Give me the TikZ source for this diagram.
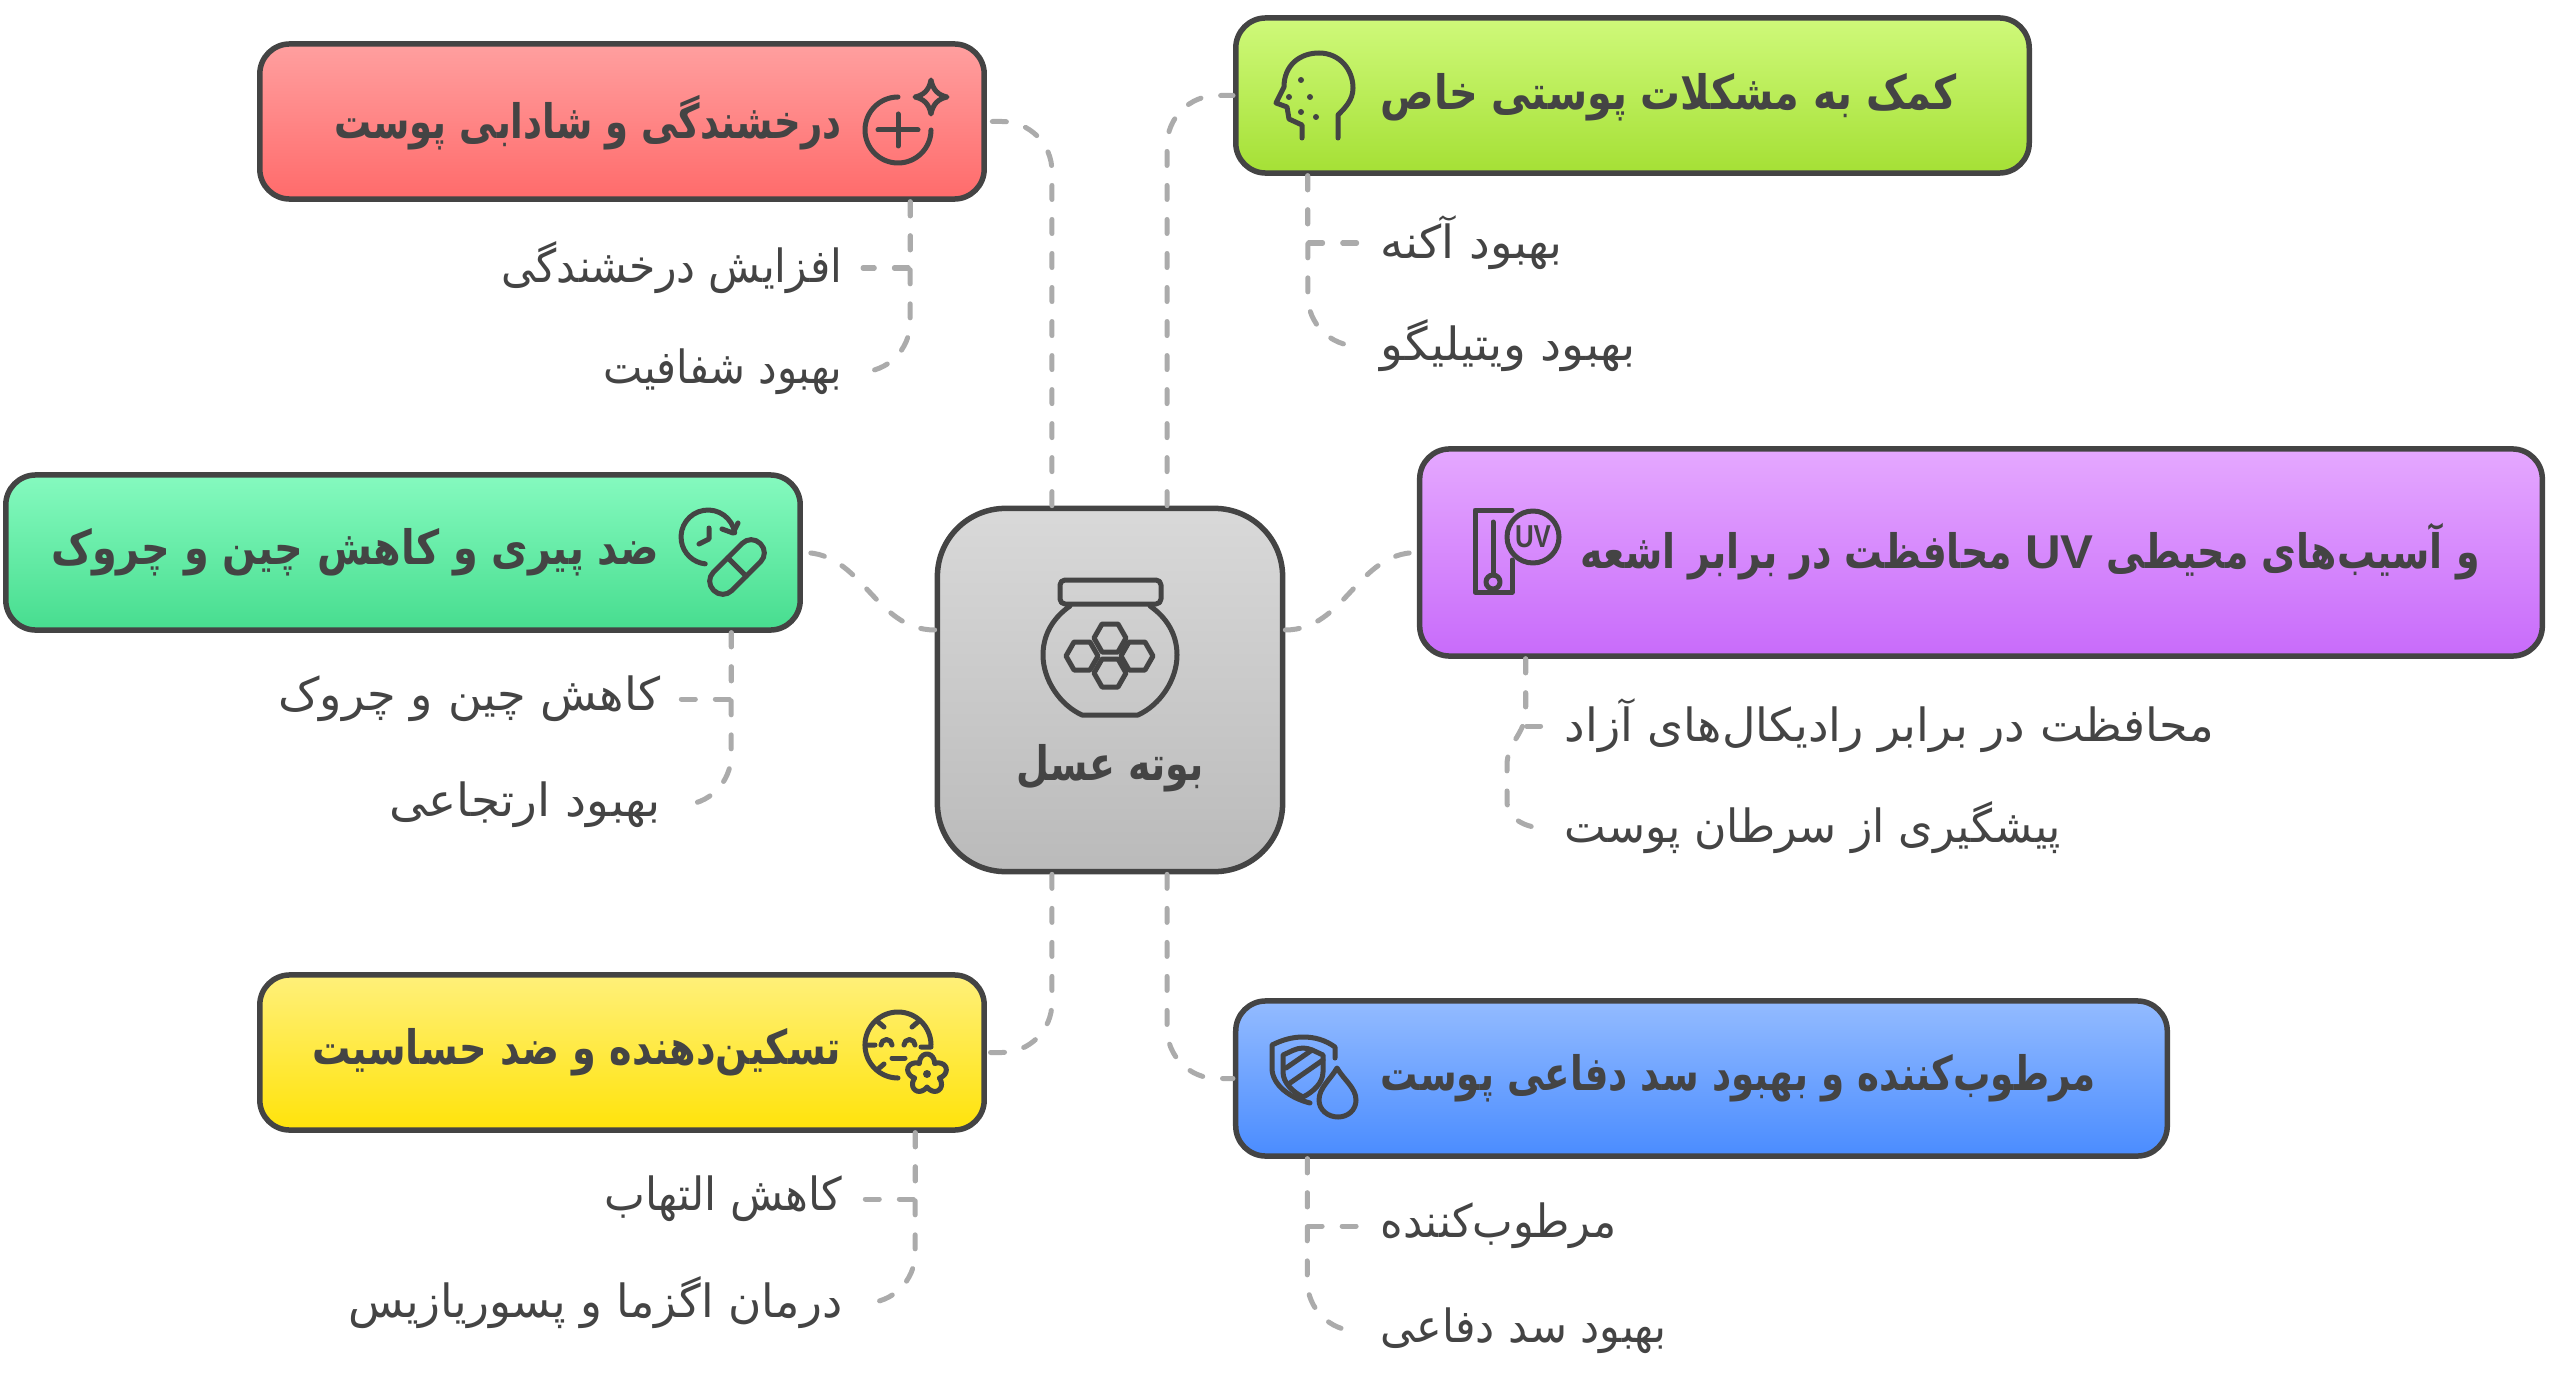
\documentclass[tikz,border=0pt]{standalone}
\usepackage{fontspec}
\newfontfamily\arabicfont[Script=Arabic]{DejaVu Sans}
\newfontfamily\latinfont{Liberation Sans}
\TeXXeTstate=1
\definecolor{boxedge}{HTML}{444444}
\definecolor{linkgrey}{HTML}{ABABAB}
% keeps the height, sets the width in 1/100 cm
\newcommand{\fitbox}[2]{\resizebox{\dimexpr 0.01cm*#1\relax}{\height}{#2}}
\tikzset{
  catbox/.style={draw=boxedge, line width=0.055cm, rounded corners=0.3cm, minimum height=1.55cm, inner sep=0pt},
  headtext/.style={inner sep=0pt, text=boxedge, font=\arabicfont\bfseries\fontsize{13.5}{15}\selectfont},
  subtext/.style={inner sep=0.2cm, text=boxedge, font=\arabicfont\fontsize{13}{15}\selectfont},
  link/.style={draw=linkgrey, line width=0.05cm, line cap=round, dash pattern=on 0.14cm off 0.2cm},
  iconline/.style={draw=boxedge, line width=0.05cm, line cap=round, line join=round}
}
\begin{document}
\begin{tikzpicture}[x=0.01cm,y=-0.01cm]
    \useasboundingbox (0,0) rectangle (2560,1388);
    % centre and the six boxes
    \node[catbox, rounded corners=0.68cm, minimum width=3.45cm, minimum height=3.63cm, top color=black!15, bottom color=black!27] (root) at (1110,690) {};
    \node[catbox, minimum width=7.24cm, top color={rgb,255:red,255;green,159;blue,159}, bottom color={rgb,255:red,255;green,107;blue,107}] (red) at (622,121.5) {};
    \node[catbox, minimum width=7.93cm, top color={rgb,255:red,207;green,249;blue,122}, bottom color={rgb,255:red,165;green,224;blue,53}] (lime) at (1632.5,95.5) {};
    \node[catbox, minimum width=7.94cm, top color={rgb,255:red,133;green,250;blue,191}, bottom color={rgb,255:red,71;green,221;blue,143}] (mint) at (403,552.5) {};
    \node[catbox, minimum width=11.22cm, minimum height=2.07cm, top color={rgb,255:red,229;green,168;blue,255}, bottom color={rgb,255:red,200;green,107;blue,250}] (uv) at (1981,552.5) {};
    \node[catbox, minimum width=7.24cm, top color={rgb,255:red,255;green,240;blue,122}, bottom color={rgb,255:red,255;green,227;blue,10}] (yellow) at (622,1052.5) {};
    \node[catbox, minimum width=9.31cm, top color={rgb,255:red,147;green,187;blue,255}, bottom color={rgb,255:red,74;green,140;blue,255}] (blue) at (1701.5,1078.5) {};

    % titles
    \node[headtext] (rootT) at (1110,768) {\fitbox{187}{\beginR بوته عسل\endR}};
    \node[headtext, anchor=east] (redT) at (842,123) {\fitbox{507}{\beginR درخشندگی و شادابی پوست\endR}};
    \node[headtext, anchor=west] (limeT) at (1380,97) {\fitbox{576}{\beginR کمک به مشکلات پوستی خاص\endR}};
    \node[headtext, anchor=east] (mintT) at (660,552) {\fitbox{608}{\beginR ضد پیری و کاهش چین و چروک\endR}};
    \node[headtext, anchor=west] (uvT) at (1580,552) {\fitbox{899}{\beginR و آسیب‌های محیطی \beginL{\latinfont\bfseries\scalebox{1.3}[1]{UV}}\endL{} محافظت در برابر اشعه\endR}};
    \node[headtext, anchor=east] (yellowT) at (842,1052) {\fitbox{529}{\beginR تسکین‌دهنده و ضد حساسیت\endR}};
    \node[headtext, anchor=west] (blueT) at (1380,1078) {\fitbox{715}{\beginR مرطوب‌کننده و بهبود سد دفاعی پوست\endR}};

    % items
    \node[subtext, anchor=east] (redA) at (863,268) {\fitbox{341}{\beginR افزایش درخشندگی\endR}};
    \node[subtext, anchor=east] (redB) at (863,372) {\fitbox{239}{\beginR بهبود شفافیت\endR}};
    \node[subtext, anchor=west] (limeA) at (1360,243) {\fitbox{182}{\beginR بهبود آکنه\endR}};
    \node[subtext, anchor=west] (limeB) at (1360,346) {\fitbox{255}{\beginR بهبود ویتیلیگو\endR}};
    \node[subtext, anchor=east] (mintA) at (681,699) {\fitbox{382}{\beginR کاهش چین و چروک\endR}};
    \node[subtext, anchor=east] (mintB) at (681,805) {\fitbox{271}{\beginR بهبود ارتجاعی\endR}};
    \node[subtext, anchor=west] (uvA) at (1544,726) {\fitbox{649}{\beginR محافظت در برابر رادیکال‌های آزاد\endR}};
    \node[subtext, anchor=west] (uvB) at (1544,828) {\fitbox{496}{\beginR پیشگیری از سرطان پوست\endR}};
    \node[subtext, anchor=east] (yellowA) at (863,1199) {\fitbox{238}{\beginR کاهش التهاب\endR}};
    \node[subtext, anchor=east] (yellowB) at (863,1303) {\fitbox{494}{\beginR درمان اگزما و پسوریازیس\endR}};
    \node[subtext, anchor=west] (blueA) at (1360,1226) {\fitbox{236}{\beginR مرطوب‌کننده\endR}};
    \node[subtext, anchor=west] (blueB) at (1360,1331) {\fitbox{286}{\beginR بهبود سد دفاعی\endR}};

    % connectors
    \draw[link, rounded corners=0.5cm] ([xshift=-0.58cm]root.north) |- (red.east);
    \draw[link, rounded corners=0.5cm] ([xshift=0.57cm]root.north) |- (lime.west);
    \draw[link, rounded corners=0.5cm] ([xshift=-0.58cm]root.south) |- (yellow.east);
    \draw[link, rounded corners=0.5cm] ([xshift=0.57cm]root.south) |- (blue.west);
    \draw[link] ([yshift=0.6cm]root.west) to[out=180,in=0] (mint.east);
    \draw[link] ([yshift=0.6cm]root.east) to[out=0,in=180] (uv.west);

    \draw[link] ([xshift=2.88cm]red.south) |- (redA.east);
    \draw[link, rounded corners=0.5cm] ([xshift=2.88cm]red.south) |- (redB.east);
    \draw[link] ([xshift=-3.245cm]lime.south) |- (limeA.west);
    \draw[link, rounded corners=0.5cm] ([xshift=-3.245cm]lime.south) |- (limeB.west);
    \draw[link] ([xshift=3.28cm]mint.south) |- (mintA.east);
    \draw[link, rounded corners=0.5cm] ([xshift=3.28cm]mint.south) |- (mintB.east);
    \draw[link] ([xshift=2.93cm]yellow.south) |- (yellowA.east);
    \draw[link, rounded corners=0.5cm] ([xshift=2.93cm]yellow.south) |- (yellowB.east);
    \draw[link] ([xshift=-3.94cm]blue.south) |- (blueA.west);
    \draw[link, rounded corners=0.5cm] ([xshift=-3.94cm]blue.south) |- (blueB.west);
    \coordinate (uvKnee) at (1507,765);
    \draw[link] ([xshift=-4.55cm]uv.south) |- (uvA.west);
    \draw[link] ([xshift=-4.55cm]uv.south) -- ++(0,52) to[out=-90,in=90] (uvKnee) -- ++(0,36) to[out=-90,in=180] (uvB.west);

    % jar
    \draw[iconline, rounded corners=0.05cm] (1060,580) rectangle (1161,604);
    \draw[iconline] (1070,606) .. controls (1050,620) and (1043,638) .. (1043,655) .. controls (1043,680) and (1060,705) .. (1082,715) -- (1138,715) .. controls (1160,705) and (1177,680) .. (1177,655) .. controls (1177,638) and (1170,620) .. (1150,606);
    \foreach \hx/\hy in {1110/638,1110/673,1082/656,1137/656}
        \draw[iconline] (\hx-16,\hy) -- (\hx-8,\hy-14) -- (\hx+8,\hy-14) -- (\hx+16,\hy) -- (\hx+8,\hy+14) -- (\hx-8,\hy+14) -- cycle;

    % sparkle
    \draw[iconline] (931,130) arc (0:270:33);
    \draw[iconline] (878,130) -- (918,130) (898,114) -- (898,146);
    \draw[iconline] (931,80) .. controls (933,90) and (938,95) .. (947,97) .. controls (938,99) and (933,104) .. (931,114) .. controls (929,104) and (924,99) .. (915,97) .. controls (924,95) and (929,90) .. (931,80) -- cycle;

    % head
    \draw[iconline] (1302,138) -- (1302,125) -- (1289,119) -- (1287,107) -- (1276,103) -- (1284,87) .. controls (1284,65) and (1300,53) .. (1319,53) .. controls (1340,53) and (1353,70) .. (1353,88) .. controls (1353,100) and (1345,108) .. (1338,115) -- (1338,138);
    \foreach \dx/\dy in {1301/80,1310/97,1289/97,1301/112,1316/117}
        \fill[boxedge] (\dx,\dy) circle (3);

    % thermometer
    \draw[iconline] (1512,510) -- (1475,510) -- (1475,592) -- (1512,592) -- (1512,560);
    \draw[iconline] (1493,522) -- (1493,575);
    \draw[iconline] (1493,582) circle (7);
    \draw[iconline] (1533,537) circle (26);
    \node[inner sep=0pt, text=boxedge, font=\latinfont\bfseries\fontsize{9}{10}\selectfont] (uvIcon) at (1533,537) {\fitbox{36}{UV}};

    % clock and pill
    \draw[iconline] (734.7,532.8) arc (-9:-264:27);
    \draw[iconline] (722,529) -- (733,533) -- (738,523);
    \draw[iconline] (709,528) -- (709,539) -- (699,544);
    \begin{scope}[shift={(737,567)},rotate=45]
        \draw[iconline, rounded corners=0.125cm] (-33,-13) rectangle (33,13);
        \draw[iconline] (0,-13) -- (0,13);
    \end{scope}

    % face and flower
    \draw[iconline] (898,1078) arc (90:360:33);
    \draw[iconline] (877,1021) -- (884,1027) (919,1021) -- (912,1027) (865,1045) -- (875,1045) (931,1047) -- (921,1047) (877,1070) -- (884,1064);
    \draw[iconline] (881,1045) arc (180:360:5.5) (904,1045) arc (180:360:5.5);
    \draw[iconline] (892,1058) -- (905,1058);
    \draw[iconline] plot[domain=0:360,samples=61] ({927+(13+7*abs(cos(2.5*(\x+90))))*cos(\x)},{1074+(13+7*abs(cos(2.5*(\x+90))))*sin(\x)}) -- cycle;
    \fill[boxedge] (927,1074) circle (4);

    % shield and drop
    \draw[iconline] (1335,1058) -- (1335,1047) .. controls (1325,1040) and (1315,1037) .. (1303,1037) .. controls (1292,1037) and (1282,1040) .. (1272,1045) -- (1272,1068) .. controls (1272,1085) and (1290,1098) .. (1310,1103);
    \draw[iconline] (1283,1055) .. controls (1290,1052) and (1296,1048) .. (1303,1048) .. controls (1310,1048) and (1316,1052) .. (1323,1055) -- (1323,1072) .. controls (1323,1083) and (1313,1092) .. (1303,1097) .. controls (1293,1092) and (1283,1083) .. (1283,1072) -- cycle;
    \draw[iconline] (1286,1068) -- (1312,1050) (1290,1083) -- (1323,1060);
    \draw[iconline] (1337,1068) .. controls (1330,1080) and (1319,1088) .. (1319,1100) .. controls (1319,1110) and (1328,1117) .. (1338,1117) .. controls (1348,1117) and (1356,1110) .. (1356,1100) .. controls (1356,1088) and (1344,1080) .. (1337,1068) -- cycle;
\end{tikzpicture}
\end{document}
